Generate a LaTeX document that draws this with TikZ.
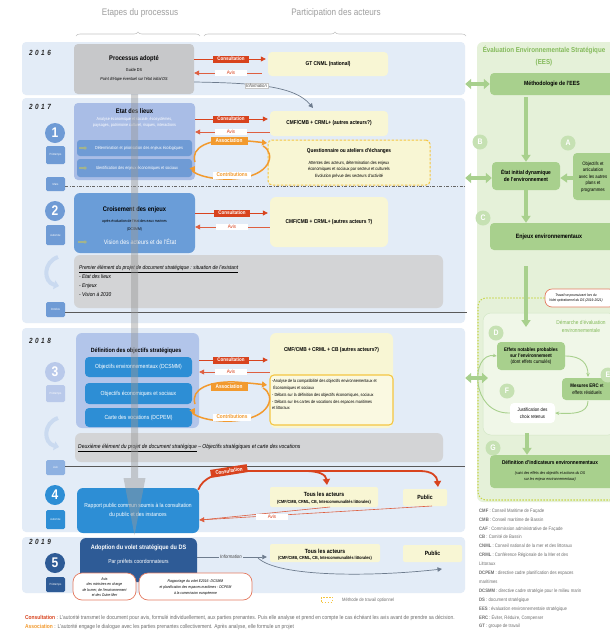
\documentclass[tikz,border=0pt]{standalone}
\usepackage{fontspec}
\setmainfont[FakeStretch=0.86]{Liberation Sans}
\usetikzlibrary{fit,arrows.meta,decorations.pathreplacing,calc}
\definecolor{bandblue}{HTML}{E3ECF7}
\definecolor{gpanel}{HTML}{E5F1D9}
\definecolor{gbox}{HTML}{A8D08D}
\definecolor{gcirc}{HTML}{C6E1B3}
\definecolor{gtitle}{HTML}{84BA5B}
\definecolor{gdot}{HTML}{C8D54A}
\definecolor{ginner}{HTML}{F0F7E8}
\definecolor{procgray}{HTML}{C7C8CA}
\definecolor{boxgray}{HTML}{D3D4D6}
\definecolor{etatblue}{HTML}{A9BDE6}
\definecolor{subblue}{HTML}{6F9BD5}
\definecolor{crblue}{HTML}{6A9DD8}
\definecolor{defblue}{HTML}{B2C5EA}
\definecolor{brblue}{HTML}{2D8ED5}
\definecolor{dkblue}{HTML}{2E5B96}
\definecolor{consred}{HTML}{D8431E}
\definecolor{assor}{HTML}{F29A2E}
\definecolor{ylw}{HTML}{F8F6D4}
\definecolor{ylwdash}{HTML}{F4C542}
\definecolor{hdrgray}{HTML}{9E9E9E}
\definecolor{txtgray}{HTML}{6E6E6E}
\definecolor{infogray}{HTML}{6E7C8E}
\definecolor{lightc}{HTML}{B9C9EA}
\definecolor{juinc}{HTML}{8EB1E1}
\definecolor{curvc}{HTML}{CADAF0}
\definecolor{iconc}{HTML}{A3B48C}
\begin{document}
\begin{tikzpicture}[x=1pt,y=-1pt,
 bx/.style={inner sep=0pt, rounded corners=4pt},
 tx/.style={inner sep=0pt, align=center},
 hdr/.style={tx, text=hdrgray, font=\fontsize{9.5}{11}\selectfont},
 yr/.style={tx, font=\fontsize{7.5}{8}\selectfont\bfseries\itshape, text=black!85},
 numc/.style={circle, inner sep=0pt, minimum size=20pt, text=white, font=\fontsize{14}{14}\selectfont\bfseries},
 seas/.style={bx, rounded corners=1.5pt},
 seast/.style={tx, text=white, font=\fontsize{3}{3}\selectfont},
 consl/.style={fill=consred, text=white, inner sep=0pt, minimum width=36pt, minimum height=7pt, font=\fontsize{5.2}{5.2}\selectfont\bfseries},
 avisl/.style={fill=white, text=consred, inner sep=0pt, minimum width=32pt, minimum height=6pt, font=\fontsize{5.2}{5.2}\selectfont},
 assl/.style={fill=assor, text=white, inner sep=0pt, minimum width=37pt, minimum height=8pt, font=\fontsize{5.5}{5.5}\selectfont\bfseries},
 contl/.style={fill=white, text=assor, inner sep=0pt, minimum width=38pt, minimum height=7pt, font=\fontsize{5.5}{5.5}\selectfont\bfseries},
 carr/.style={draw=consred, line width=0.8pt, -{Triangle[length=5pt,width=5pt]}},
 aarr/.style={draw=consred!85, line width=0.6pt, -{Triangle[length=5pt,width=5pt]}},
 orarr/.style={draw=assor, line width=1.5pt, -{Triangle[length=5pt,width=6pt]}},
 garr/.style={draw=gbox, line width=3.5pt, -{Triangle[length=7pt,width=9pt]}},
 gdarr/.style={draw=gbox, line width=4pt, {Triangle[length=6pt,width=10pt]}-{Triangle[length=6pt,width=10pt]}},
 gthin/.style={draw=gbox, line width=0.9pt, -{Stealth[length=4pt,width=3.5pt]}},
 lcirc/.style={circle, fill=gcirc, inner sep=0pt, minimum size=15pt, text=white, font=\fontsize{8}{8}\selectfont\bfseries},
 ybx/.style={bx, fill=ylw},
 gb/.style={bx, fill=gbox},
 icon/.style={draw=iconc, line width=1.3pt, -{Triangle[length=2.5pt,width=4pt]}},
 curvarr/.style={draw=curvc, line width=4pt, -{Triangle[length=5pt,width=9pt]}},
 infoarr/.style={draw=infogray, line width=0.7pt, -{Triangle[length=4.5pt,width=4.5pt]}},
 redbx/.style={bx, rounded corners=9pt, fill=white, draw=consred!70, line width=0.7pt},
 small/.style={tx, font=\fontsize{4.3}{6}\selectfont}
]
\useasboundingbox (0,0) rectangle (610,633);
\fill[white] (0,0) rectangle (610,633);

% headers
\node[hdr] (h1) at (140,13) {Etapes du processus};
\node[hdr] (h2) at (336,13) {Participation des acteurs};
\draw[hdrgray!60, line width=0.6pt, decorate, decoration={brace, amplitude=4pt}] (76,36) -- (200,36);
\draw[hdrgray!60, line width=0.6pt, decorate, decoration={brace, amplitude=4pt}] (204,36) -- (466,36);

% bands
\node[fit={(22,42)(465,95)}, bx, fill=bandblue] (b16) {};
\node[fit={(22,98)(465,323)}, bx, fill=bandblue] (b17) {};
\node[fit={(22,328)(465,532)}, bx, fill=bandblue] (b18) {};
\node[fit={(22,537)(465,593)}, bx, fill=bandblue] (b19) {};
\node[fit={(477,42)(616,502)}, bx, rounded corners=6pt, fill=gpanel] (gp) {};

% years
\node[yr] (y16) at (40,53) {2\,\,0\,\,1\,\,6};
\node[yr] (y17) at (40,107) {2\,\,0\,\,1\,\,7};
\node[yr] (y18) at (40,341) {2\,\,0\,\,1\,\,8};
\node[yr] (y19) at (40,542) {2\,\,0\,\,1\,\,9};

% left timeline
\node[numc, fill=subblue] (n1) at (55,133) {1};
\node[fit={(46,146)(65,164)}, seas, fill=subblue] (s1) {};
\node[seast] at (s1) {Printemps};
\node[fit={(46,177)(65,191)}, seas, fill=subblue] (s1b) {};
\node[seast] at (s1b) {Mars};
\node[numc, fill=subblue] (n2) at (55,211) {2};
\node[fit={(46,225)(65,245)}, seas, fill=subblue] (s2) {};
\node[seast] at (s2) {Automne};
\draw[curvarr] (58,257) .. controls (43,262) and (43,282) .. (59,286);
\node[fit={(46,302)(65,317)}, seas, fill=subblue] (s2b) {};
\node[seast] at (s2b) {Octobre};
\node[numc, fill=lightc] (n3) at (55,372) {3};
\node[fit={(46,385)(65,402)}, seas, fill=lightc] (s3) {};
\node[seast] at (s3) {Printemps};
\draw[curvarr] (58,418) .. controls (43,423) and (43,443) .. (59,447);
\node[fit={(46,460)(65,475)}, seas, fill=juinc] (s3b) {};
\node[seast] at (s3b) {Juin};
\node[numc, fill=brblue] (n4) at (55,495) {4};
\node[fit={(46,510)(65,529)}, seas, fill=brblue] (s4) {};
\node[seast] at (s4) {Automne};
\node[numc, fill=dkblue] (n5) at (55,563) {5};
\node[fit={(46,577)(65,592)}, seas, fill=dkblue] (s5) {};
\node[seast] at (s5) {Printemps};

% separating lines
\coordinate (l1e) at (465,186);
\draw[black!60, line width=0.6pt, dash pattern=on 3pt off 1.5pt on 0.8pt off 1.5pt] (s1b.east |- l1e) -- (l1e);
\coordinate (l2e) at (467,312);
\draw[black!65, line width=0.7pt] (s2b.east |- l2e) -- (l2e);
\coordinate (l3e) at (465,466);
\draw[black!65, line width=0.7pt] (s3b.east |- l3e) -- (l3e);

% ===== process column =====
\node[fit={(74,44)(194,94)}, bx, fill=procgray] (proc) {};
\node[tx, font=\fontsize{6.7}{7}\selectfont\bfseries] (proct1) at (134,59) {Processus adopté};
\node[tx, font=\fontsize{4.3}{5}\selectfont] (proct2) at (134,70) {Guide DS};
\node[tx, font=\fontsize{4.3}{5}\selectfont\itshape] (proct3) at (134,79) {Point d'étape éventuel sur l'état initial DS};

\node[fit={(74,103)(195,180)}, bx, fill=etatblue] (etat) {};
\node[tx, font=\fontsize{6.7}{7}\selectfont\bfseries] (etatt) at (134.5,111) {Etat des lieux};
\node[tx, text=white, font=\fontsize{4.3}{6.3}\selectfont] (etatt2) at (134.5,122.5) {Analyse économique et sociale, écosystèmes,\\paysages, patrimoine culturel, risques, interactions};
\node[fit={(77,140)(192,156)}, bx, rounded corners=3pt, fill=subblue] (etat1) {};
\node[tx, text=white, font=\fontsize{4.4}{5}\selectfont] (etat1t) at (139,148) {Détermination et priorisation des enjeux écologiques};
\node[fit={(77,159)(192,177)}, bx, rounded corners=3pt, fill=subblue] (etat2) {};
\node[tx, text=white, font=\fontsize{4.4}{5}\selectfont] (etat2t) at (137,168) {Identification des enjeux économiques et sociaux};
\draw[icon] (79,148) -- (87,148);
\draw[icon] (79,168) -- (87,168);

\node[fit={(74,193)(195,253)}, bx, rounded corners=6pt, fill=crblue] (crois) {};
\node[tx, font=\fontsize{6.7}{7}\selectfont\bfseries] (croist) at (134.5,210) {Croisement des enjeux};
\node[tx, font=\fontsize{3.9}{8}\selectfont] (croist2) at (134.5,225) {après évaluation de l'état des eaux marines\\(DCSMM)};
\node[tx, text=white, font=\fontsize{6.4}{7}\selectfont] (croist3) at (140,242) {Vision des acteurs et de l'État};
\draw[icon] (78,242) -- (87,242);

\node[fit={(74,255)(443,308)}, bx, rounded corners=6pt, fill=boxgray] (prem) {};
\node[anchor=north west, inner sep=0pt, align=left, font=\fontsize{5.6}{9}\selectfont\itshape] (premt) at (79,265) {\underline{Premier élément du projet de document stratégique : situation de l'existant}\\ - Etat des lieux\\ - Enjeux\\- Vision à 2030};

\node[fit={(76,333)(199,428)}, bx, rounded corners=6pt, fill=defblue] (def) {};
\node[tx, font=\fontsize{6.1}{7}\selectfont\bfseries] (deft) at (136,351) {Définition des objectifs stratégiques};
\node[fit={(85,357)(192,377)}, bx, fill=brblue] (def1) {};
\node[tx, text=white, font=\fontsize{5.9}{6}\selectfont] at (def1) (def1t) {Objectifs environnementaux (DCSMM)};
\node[fit={(85,383)(192,404)}, bx, fill=brblue] (def2) {};
\node[tx, text=white, font=\fontsize{5.9}{6}\selectfont] at (def2) (def2t) {Objectifs économiques et sociaux};
\node[fit={(85,408)(192,427)}, bx, fill=brblue] (def3) {};
\node[tx, text=white, font=\fontsize{5.9}{6}\selectfont] at (def3) (def3t) {Carte des vocations (DCPEM)};

\node[fit={(75,433)(443,462)}, bx, rounded corners=6pt, fill=boxgray] (deux) {};
\node[anchor=west, inner sep=0pt, font=\fontsize{5.8}{6}\selectfont\itshape] (deuxt) at (78,448) {\underline{Deuxième élément du projet de document stratégique} -- Objectifs stratégiques et carte des vocations};

\node[fit={(77,488)(199,533)}, bx, rounded corners=6pt, fill=brblue] (rap) {};
\node[tx, text=white, font=\fontsize{5.8}{9}\selectfont] (rapt) at (138,510) {Rapport public commun soumis à la consultation\\du public et des instances};

\node[fit={(80,538)(197,582)}, bx, rounded corners=6pt, fill=dkblue] (adop) {};
\node[tx, text=white, font=\fontsize{6.4}{7}\selectfont\bfseries] (adopt) at (138.5,548) {Adoption du volet stratégique du DS};
\node[tx, text=white, font=\fontsize{5.8}{6}\selectfont] (adopt2) at (138.5,562) {Par préfets coordonnateurs};
\node[fit={(73,573)(136,600)}, redbx] (avm) {};
\node[tx, font=\fontsize{3.9}{5.6}\selectfont\itshape] (avmt) at (104.5,587) {Avis\\des ministres en charge\\de la mer, de l'environnement\\et des Outre-Mer};
\node[fit={(139,573)(252,600)}, redbx] (rapp) {};
\node[tx, font=\fontsize{3.9}{6}\selectfont\itshape] (rappt) at (195.5,587) {Rapportage du volet E2016- DCSMM\\et planification des espaces maritimes - DCPEM\\à la commission européenne};

% ===== actors column =====
\node[fit={(268,52)(388,76)}, ybx] (gt) {};
\node[tx, font=\fontsize{5.6}{6}\selectfont\bfseries] at (gt) (gtt) {GT CNML (national)};

\node[fit={(270,111)(388,136)}, ybx] (cmf1) {};
\node[tx, font=\fontsize{5.6}{6}\selectfont\bfseries] at (cmf1) (cmf1t) {CMF/CMB + CRML+ (autres acteurs?)};
\node[fit={(268,140)(430,185)}, bx, fill=ylw, draw=ylwdash, line width=1pt, dash pattern=on 2.5pt off 1.5pt] (quest) {};
\node[tx, font=\fontsize{5.5}{6}\selectfont\bfseries] (questt) at (349,151) {Questionnaire ou ateliers d'échanges};
\node[tx, font=\fontsize{4.5}{6.2}\selectfont] (questt2) at (349,166) {Attentes des acteurs, détermination des enjeux\\économiques et sociaux par secteur et culturels};
\node[tx, font=\fontsize{4.5}{5}\selectfont] (questt3) at (349,176) {Evolution prévue des secteurs d'activité};

\node[fit={(270,197)(388,247)}, ybx, rounded corners=6pt] (cmf2) {};
\node[tx, font=\fontsize{5.6}{6}\selectfont\bfseries] at (cmf2) (cmf2t) {CMF/CMB + CRML+ (autres acteurs ?)};

\node[fit={(270,333)(393,428)}, ybx, rounded corners=6pt] (cmf3) {};
\node[tx, font=\fontsize{5.6}{6}\selectfont\bfseries] (cmf3t) at (331.5,350) {CMF/CMB + CRML + CB (autres acteurs?)};
\node[fit={(270,375)(393,425)}, bx, fill=ylw!70!white, draw=ylwdash, line width=1.1pt] (cmf3in) {};
\node[anchor=north west, inner sep=0pt, align=left, font=\fontsize{4.4}{6.7}\selectfont] (cmf3int) at (272,379.5) {-Analyse de la compatibilité des objectifs environnementaux et\\ \ Économiques et sociaux\\- Débats sur la définition des objectifs économiques, sociaux\\- Débats sur les cartes de vocations des espaces maritimes\\et littoraux};

\node[fit={(270,487)(378,507)}, ybx, rounded corners=2pt] (tous4) {};
\node[tx, font=\fontsize{6}{6}\selectfont\bfseries] (tous4t) at (324,494) {Tous les acteurs};
\node[tx, font=\fontsize{4.4}{5}\selectfont\bfseries] (tous4t2) at (324,502) {(CMF/CMB, CRML, CB, Intercommunalités littorales)};
\node[fit={(403,489)(447,506)}, ybx, rounded corners=2pt] (pub4) {};
\node[tx, font=\fontsize{6}{6}\selectfont\bfseries] at (pub4) (pub4t) {Public};

\node[fit={(270,544)(380,562)}, ybx, rounded corners=2pt] (tous5) {};
\node[tx, font=\fontsize{6}{6}\selectfont\bfseries] (tous5t) at (325,551) {Tous les acteurs};
\node[tx, font=\fontsize{4.4}{5}\selectfont\bfseries] (tous5t2) at (325,558) {(CMF/CMB, CRML, CB, Intercommunalités littorales)};
\node[fit={(403,545)(462,562)}, ybx, rounded corners=2pt] (pub5) {};
\node[tx, font=\fontsize{6}{6}\selectfont\bfseries] at (pub5) (pub5t) {Public};

% consultation / avis arrows
\coordinate (cy16) at (230,59); \coordinate (ay16) at (230,73);
\draw[carr] (proc.east |- cy16) -- ([xshift=-2pt]gt.west |- cy16);
\draw[aarr] ([xshift=-6pt]gt.west |- ay16) -- (proc.east |- ay16);
\node[consl] (c16) at (231,59) {Consultation};
\node[avisl] (a16) at (231,73) {Avis};

\coordinate (cy17) at (230,119); \coordinate (ay17) at (230,132);
\draw[carr] (etat.east |- cy17) -- ([xshift=-2pt]cmf1.west |- cy17);
\draw[aarr] (cmf1.west |- ay17) -- (etat.east |- ay17);
\node[consl] (c17) at (231,119) {Consultation};
\node[avisl] (a17) at (231,132) {Avis};

\coordinate (cy2) at (230,213); \coordinate (ay2) at (230,227);
\draw[carr] (crois.east |- cy2) -- ([xshift=-2pt]cmf2.west |- cy2);
\draw[aarr] (cmf2.west |- ay2) -- (crois.east |- ay2);
\node[consl] (c2) at (232,213) {Consultation};
\node[avisl] (a2) at (232,227) {Avis};

\coordinate (cy3) at (230,360); \coordinate (ay3) at (230,372);
\draw[carr] (def.east |- cy3) -- ([xshift=-2pt]cmf3.west |- cy3);
\draw[aarr] (cmf3.west |- ay3) -- (def.east |- ay3);
\node[consl] (c3) at (231,360) {Consultation};
\node[avisl] (a3) at (231,372) {Avis};

% association loops
\draw[orarr] (195,162) .. controls (190,147) and (210,139) .. (235,140) .. controls (250,141) and (258,142) .. (267,143);
\draw[orarr] (263,146) .. controls (276,153) and (272,177) .. (232,179) .. controls (205,180) and (191,172) .. (195,166);
\node[assl] (as17) at (229,141) {Association};
\node[contl] (co17) at (232,175) {Contributions};

\draw[orarr] (195,404) .. controls (190,389) and (210,381) .. (235,382) .. controls (250,383) and (258,384) .. (267,385);
\draw[orarr] (263,388) .. controls (276,395) and (272,419) .. (232,421) .. controls (205,422) and (191,414) .. (195,408);
\node[assl] (as18) at (229,387) {Association};
\node[contl] (co18) at (232,417) {Contributions};

% information 2016
\draw[infoarr] (proc.east |- 0,82) .. controls (255,83) and (295,86) .. (313,108);
\node[fill=white, draw=gray!45, line width=0.4pt, inner sep=1pt, font=\fontsize{4.8}{5}\selectfont\itshape, text=black!75] (inf16) at (256.5,85.5) {Information};

% step 4 consultation
\draw[line width=1.8pt, consred, -{Triangle[length=6pt,width=7pt]}] (rap.north east) ++(-1,2) .. controls (203,478) and (215,472) .. (245,471) -- (305,471) .. controls (320,471) and (326,475) .. (327,485);
\draw[line width=1.8pt, consred, -{Triangle[length=6pt,width=7pt]}] (300,471) -- (420,471) .. controls (432,471) and (437,476) .. (438,487);
\node[consl, rotate=9, minimum width=37pt, minimum height=8pt] (c4) at (229,471) {Consultation};
\coordinate (av4) at (200,520);
\draw[draw=consred!85, line width=0.6pt] (330,507) -- (av4);
\draw[aarr] (432,506) -- (rap.east |- av4);
\node[avisl] (a4) at (272,517) {Avis};

% step 5 information
\coordinate (iy5) at (230,557);
\draw[infoarr] (adop.east |- iy5) -- ([xshift=-3pt]tous5.west |- iy5);
\node[fill=bandblue, inner sep=1pt, font=\fontsize{5}{5}\selectfont\itshape, text=black!75] (inf5) at (231,557) {Information};
\draw[infoarr] (258,558) .. controls (278,577) and (370,577) .. (442,569);

% ===== green panel =====
\node[tx, text=gtitle, font=\fontsize{7.2}{12}\selectfont\bfseries] (eest) at (544,56) {Évaluation Environnementale Stratégique\\(EES)};
\node[fit={(490,73)(616,95)}, gb] (meth) {};
\node[tx, font=\fontsize{6}{6}\selectfont\bfseries] (metht) at (552,84) {Méthodologie de l'EES};
\draw[gdarr] (b16.east |- 0,84) -- (meth.west |- 0,84);

\node[fit={(492,162)(560,190)}, gb] (einit) {};
\node[tx, font=\fontsize{5.6}{7}\selectfont\bfseries] at (einit) (einitt) {État initial dynamique\\de l'environnement};
\draw[garr] (meth.south -| einit) ++(0,2) -- (einit.north);
\node[lcirc] (cB) at (480,142) {B};
\node[lcirc] (cA) at (568,143) {A};
\node[fit={(573,153)(616,200)}, gb] (obj) {};
\node[tx, font=\fontsize{4.9}{6.4}\selectfont] (objt) at (593,177) {Objectifs et\\articulation\\avec les autres\\plans et\\programmes};
\draw[garr] (obj.west |- 0,178) -- (einit.east |- 0,178);
\draw[gdarr] (b17.east |- 0,178) -- (einit.west |- 0,178);

\node[fit={(490,223)(616,250)}, gb] (enj) {};
\node[tx, font=\fontsize{6.2}{7}\selectfont\bfseries] (enjt) at (549,237) {Enjeux environnementaux};
\draw[garr] (einit.south) -- (einit.south |- enj.north);
\node[lcirc] (cC) at (483,218) {C};

\node[fit={(545,289)(616,307)}, bx, rounded corners=7pt, fill=white, draw=consred!70, line width=0.7pt] (note) {};
\node[anchor=west, inner sep=0pt, align=center, font=\fontsize{3.7}{5.2}\selectfont\itshape] (notet) at (549,298) {Travail se poursuivant lors du\\Volet opérationnel du DS (2019-2021)};
\draw[gdot, line width=1.1pt, dash pattern=on 1.4pt off 1.6pt, rounded corners=8pt] (note.west) -- (478,298) -- (478,500) -- (616,500);

\node[fit={(483,313)(616,435)}, bx, rounded corners=8pt, fill=ginner, draw=gbox!50, line width=0.5pt] (dem) {};
\node[tx, text=gtitle, font=\fontsize{5.6}{8}\selectfont] (demt) at (581,326) {Démarche d'évaluation\\environnementale};
\draw[garr] (526,266) -- (526,327);

\node[fit={(497,342)(565,370)}, gb] (eff) {};
\node[tx, font=\fontsize{5.1}{6.3}\selectfont] (efft) at (eff) {\textbf{Effets notables probables}\\\textbf{sur l'environnement}\\(dont effets cumulés)};
\node[lcirc] (cD) at (496,333) {D};
\node[fit={(562,378)(616,400)}, gb] (mes) {};
\node[tx, font=\fontsize{5.1}{7}\selectfont] (mest) at (587,389) {\textbf{Mesures ERC} et\\effets résiduels};
\node[lcirc] (cE) at (608,375) {E};
\node[fit={(510,403)(555,423)}, bx, fill=white] (jus) {};
\node[tx, font=\fontsize{4.9}{6.5}\selectfont] at (jus) (just) {Justification des\\choix retenus};
\node[lcirc] (cF) at (507,391) {F};
\draw[gthin] (eff.east) .. controls (582,356) and (588,364) .. (588,377);
\draw[gthin] (588,401) .. controls (588,414) and (572,414) .. (jus.east);
\draw[gthin] (jus.west) .. controls (470,414) and (470,352) .. (eff.west);
\draw[gdarr] (b18.east |- 0,378) -- (488,378);

\node[fit={(490,455)(616,488)}, gb] (ind) {};
\node[tx, font=\fontsize{5.5}{6}\selectfont\bfseries] (indt) at (550,463) {Définition d'indicateurs environnementaux};
\node[tx, font=\fontsize{4}{6}\selectfont\itshape] (indt2) at (550,476) {(suivi des effets des objectifs et actions du DS\\sur les enjeux environnementaux)};
\draw[garr] (527,433) -- (527,0 |- ind.north);
\node[lcirc] (cG) at (493,448) {G};

% legend
\node[anchor=north west, inner sep=0pt, align=left, text=txtgray, font=\fontsize{4.9}{8.9}\selectfont] (legend) at (479,508.5) {\textbf{CMF} : Conseil Maritime de Façade\\\textbf{CMB} : Conseil maritime de Bassin\\\textbf{CAF} : Commission administrative de Façade\\\textbf{CB} : Comité de Bassin\\\textbf{CNML} : Conseil national de la mer et des littoraux\\\textbf{CRML} : Conférence Régionale de la Mer et des\\Littoraux\\\textbf{DCPEM} : directive cadre planification des espaces\\maritimes\\\textbf{DCSMM} : directive cadre stratégie pour le milieu marin\\\textbf{DS} : document stratégique\\\textbf{EES} : évaluation environnementale stratégique\\\textbf{ERC} : Éviter, Réduire, Compenser\\\textbf{GT} : groupe de travail};

\node[minimum width=11pt, minimum height=5pt, inner sep=0pt, draw=ylwdash, line width=1pt, dash pattern=on 1.5pt off 1.5pt] (lgbox) at (327,599.5) {};
\node[anchor=west, inner sep=0pt, text=txtgray, font=\fontsize{4.8}{5}\selectfont] (lgt) at (342,600) {Méthode de travail optionnel};

\node[anchor=west, inner sep=0pt, text=txtgray, font=\fontsize{5.7}{6}\selectfont] (foot1) at (25,618) {\textcolor{consred}{\textbf{Consultation}} : L'autorité transmet le document pour avis, formulé individuellement, aux parties prenantes. Puis elle analyse et prend en compte le cas échéant les avis avant de prendre sa décision.};
\node[anchor=west, inner sep=0pt, text=txtgray, font=\fontsize{5.7}{6}\selectfont] (foot2) at (25,627) {\textcolor{assor}{\textbf{Association}} : L'autorité engage le dialogue avec les parties prenantes collectivement. Après analyse, elle formule un projet};

% translucent process arrow
\fill[gray!80, opacity=0.45] (131,94) -- (138,94) -- (138,478) -- (145.5,478) -- (134.5,535) -- (123.5,478) -- (131,478) -- cycle;
\end{tikzpicture}
\end{document}
